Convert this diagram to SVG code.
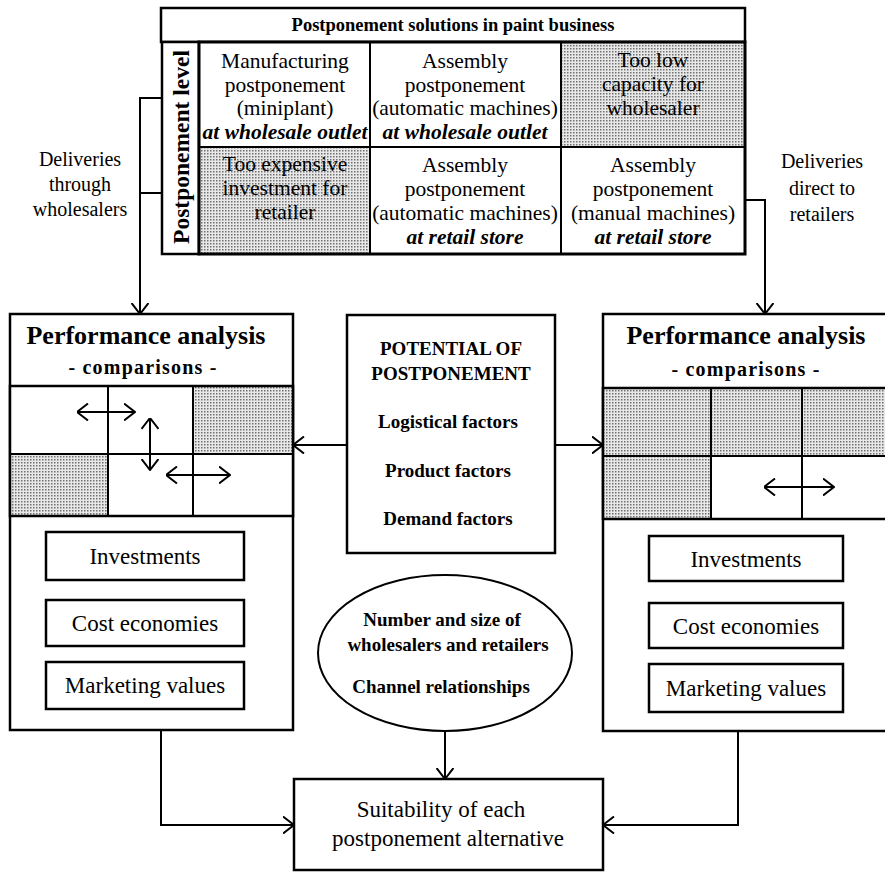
<svg xmlns="http://www.w3.org/2000/svg" width="885" height="872" viewBox="0 0 885 872">
<defs>
<style>
.box{fill:#fff;stroke:#000;stroke-width:2.5}
.thin{fill:none;stroke:#000;stroke-width:2}
.shade{fill:url(#dots);stroke:#000;stroke-width:2}
.cell{fill:#fff;stroke:#000;stroke-width:2}
.ln{fill:none;stroke:#000;stroke-width:2}
.t{font-family:"Liberation Serif","Times New Roman",serif;fill:#000;text-anchor:middle}
.b{font-weight:bold}
.i{font-style:italic;font-weight:bold}
.c21{font-size:21.5px}
.c20{font-size:20px}
.c23{font-size:23px}
.c19{font-size:19px}
</style>
<pattern id="dots" width="3" height="3" patternUnits="userSpaceOnUse">
<rect width="3" height="3" fill="#e8e8e8"/>
<rect width="1.5" height="1.5" fill="#707070"/>
</pattern>
<marker id="ah" viewBox="0 0 12 18" refX="11.5" refY="9" markerWidth="12" markerHeight="18" markerUnits="userSpaceOnUse" orient="auto-start-reverse">
<path d="M0.5,0.5 L11.5,9 L0.5,17.5" fill="none" stroke="#000" stroke-width="2"/>
</marker>
</defs>
<rect width="885" height="872" fill="#fff"/>

<g id="table">
<rect class="box" x="161" y="8" width="584" height="34"/>
<text class="t b" x="453" y="31" style="font-size:18.5px">Postponement solutions in paint business</text>
<rect class="box" x="162" y="42" width="37" height="212"/>
<text class="t b" transform="translate(189,147) rotate(-90)" style="font-size:23.5px">Postponement level</text>
<rect class="cell" x="199" y="42" width="171" height="105"/>
<rect class="cell" x="370" y="42" width="191" height="105"/>
<rect class="shade" x="561" y="42" width="184" height="105"/>
<rect class="shade" x="199" y="147" width="171" height="107"/>
<rect class="cell" x="370" y="147" width="191" height="107"/>
<rect class="cell" x="561" y="147" width="184" height="107"/>
<rect x="199" y="42" width="546" height="212" fill="none" stroke="#000" stroke-width="3"/>
<text class="t c21" x="285" y="68">Manufacturing</text>
<text class="t c21" x="285" y="92">postponement</text>
<text class="t c21" x="285" y="115">(miniplant)</text>
<text class="t c21 i" x="285" y="139">at wholesale outlet</text>
<text class="t c21" x="465" y="68">Assembly</text>
<text class="t c21" x="465" y="92">postponement</text>
<text class="t c21" x="465" y="115">(automatic machines)</text>
<text class="t c21 i" x="465" y="139">at wholesale outlet</text>
<text class="t c21" x="653" y="67">Too low</text>
<text class="t c21" x="653" y="91">capacity for</text>
<text class="t c21" x="653" y="115">wholesaler</text>
<text class="t c21" x="285" y="171">Too expensive</text>
<text class="t c21" x="285" y="195">investment for</text>
<text class="t c21" x="285" y="219">retailer</text>
<text class="t c21" x="465" y="172">Assembly</text>
<text class="t c21" x="465" y="196">postponement</text>
<text class="t c21" x="465" y="220">(automatic machines)</text>
<text class="t c21 i" x="465" y="244">at retail store</text>
<text class="t c21" x="653" y="172">Assembly</text>
<text class="t c21" x="653" y="196">postponement</text>
<text class="t c21" x="653" y="220">(manual machines)</text>
<text class="t c21 i" x="653" y="244">at retail store</text>
</g>

<g id="label-left">
<text class="t c20" x="80" y="166">Deliveries</text>
<text class="t c20" x="80" y="191">through</text>
<text class="t c20" x="80" y="216">wholesalers</text>
</g>
<g id="label-right">
<text class="t c20" x="822" y="168">Deliveries</text>
<text class="t c20" x="822" y="195">direct to</text>
<text class="t c20" x="822" y="221">retailers</text>
</g>

<g id="perf-left">
<rect class="box" x="10" y="314" width="283" height="416"/>
<text class="t b" x="146" y="344" style="font-size:26px">Performance analysis</text>
<text class="t b" x="143" y="374" style="font-size:20px;letter-spacing:1.2px">- comparisons -</text>
<rect class="cell" x="10" y="386" width="98" height="68"/>
<rect class="cell" x="108" y="386" width="85" height="68"/>
<rect class="shade" x="193" y="386" width="100" height="68"/>
<rect class="shade" x="10" y="454" width="98" height="62"/>
<rect class="cell" x="108" y="454" width="85" height="62"/>
<rect class="cell" x="193" y="454" width="100" height="62"/>
<rect x="10" y="386" width="283" height="130" fill="none" stroke="#000" stroke-width="2.5"/>
<line class="ln" x1="77" y1="412" x2="135" y2="412" marker-start="url(#ah)" marker-end="url(#ah)"/>
<line class="ln" x1="150" y1="418" x2="150" y2="470" marker-start="url(#ah)" marker-end="url(#ah)"/>
<line class="ln" x1="166" y1="475" x2="230" y2="475" marker-start="url(#ah)" marker-end="url(#ah)"/>
<rect class="box" x="46" y="532" width="198" height="48"/>
<text class="t c23" x="145" y="564">Investments</text>
<rect class="box" x="46" y="600" width="198" height="46"/>
<text class="t c23" x="145" y="631">Cost economies</text>
<rect class="box" x="46" y="662" width="198" height="47"/>
<text class="t c23" x="145" y="693">Marketing values</text>
</g>

<g id="perf-right">
<rect class="box" x="603" y="314" width="290" height="417"/>
<text class="t b" x="746" y="344" style="font-size:26px">Performance analysis</text>
<text class="t b" x="746" y="376" style="font-size:20px;letter-spacing:1.2px">- comparisons -</text>
<rect class="shade" x="603" y="388" width="108" height="68"/>
<rect class="shade" x="711" y="388" width="91" height="68"/>
<rect class="shade" x="802" y="388" width="91" height="68"/>
<rect class="shade" x="603" y="456" width="108" height="63"/>
<rect class="cell" x="711" y="456" width="91" height="63"/>
<rect class="cell" x="802" y="456" width="91" height="63"/>
<rect x="603" y="388" width="290" height="131" fill="none" stroke="#000" stroke-width="2.5"/>
<line class="ln" x1="764" y1="487" x2="834" y2="487" marker-start="url(#ah)" marker-end="url(#ah)"/>
<rect class="box" x="649" y="536" width="194" height="45"/>
<text class="t c23" x="746" y="567">Investments</text>
<rect class="box" x="649" y="603" width="194" height="45"/>
<text class="t c23" x="746" y="634">Cost economies</text>
<rect class="box" x="649" y="664" width="194" height="48"/>
<text class="t c23" x="746" y="696">Marketing values</text>
</g>

<g id="potential">
<rect class="box" x="347" y="315" width="208" height="238"/>
<text class="t b c19" x="451" y="355">POTENTIAL OF</text>
<text class="t b c19" x="451" y="380">POSTPONEMENT</text>
<text class="t b c19" x="448" y="428">Logistical factors</text>
<text class="t b c19" x="448" y="477">Product factors</text>
<text class="t b c19" x="448" y="525">Demand factors</text>
</g>

<g id="channel">
<ellipse cx="445" cy="653" rx="127" ry="78" fill="#fff" stroke="#000" stroke-width="2"/>
<text class="t b c19" x="442" y="626">Number and size of</text>
<text class="t b c19" x="448" y="651">wholesalers and retailers</text>
<text class="t b c19" x="441" y="693">Channel relationships</text>
</g>

<g id="suitability">
<rect class="box" x="294" y="779" width="309" height="91"/>
<text class="t c23" x="441" y="817">Suitability of each</text>
<text class="t c23" x="448" y="846">postponement alternative</text>
</g>

<g id="connectors">
<polyline class="ln" points="162,98 140,98 140,314" marker-end="url(#ah)"/>
<line class="ln" x1="140" y1="193" x2="162" y2="193"/>
<polyline class="ln" points="745,200 765,200 765,314" marker-end="url(#ah)"/>
<line class="ln" x1="347" y1="445" x2="293" y2="445" marker-end="url(#ah)"/>
<line class="ln" x1="555" y1="445" x2="603" y2="445" marker-end="url(#ah)"/>
<line class="ln" x1="445" y1="731" x2="445" y2="779" marker-end="url(#ah)"/>
<polyline class="ln" points="161,730 161,825 294,825" marker-end="url(#ah)"/>
<polyline class="ln" points="738,731 738,825 603,825" marker-end="url(#ah)"/>
</g>
</svg>
